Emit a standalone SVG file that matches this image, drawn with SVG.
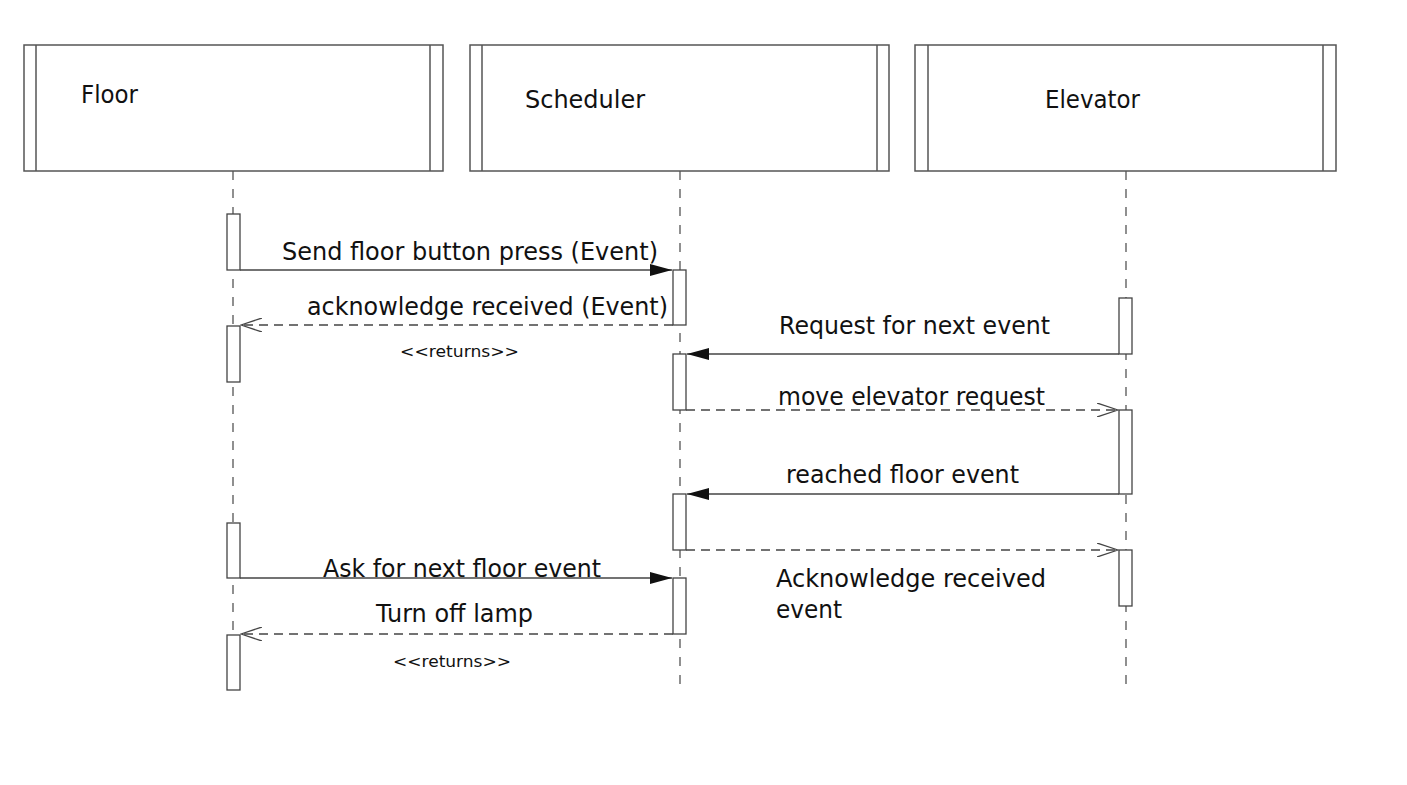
<svg xmlns="http://www.w3.org/2000/svg" width="1407" height="785" viewBox="0 0 1407 785">
<style>
.box{fill:#fff;stroke:#555;stroke-width:1.5}
.life{stroke:#555;stroke-width:1.3;stroke-dasharray:9,9;fill:none}
.act{fill:#fff;stroke:#444;stroke-width:1.3}
.msg{stroke:#444;stroke-width:1.3;fill:none}
.ret{stroke:#444;stroke-width:1.3;stroke-dasharray:9,6;fill:none}
.t{font-family:"DejaVu Sans","Liberation Sans",sans-serif;font-size:24px;fill:#111}
.s{font-family:"DejaVu Sans","Liberation Sans",sans-serif;font-size:16px;fill:#111}
.h{font-family:"DejaVu Sans","Liberation Sans",sans-serif;font-size:24px;fill:#111}
</style>
<defs>
<marker id="fill" markerWidth="22" markerHeight="12" refX="22" refY="6" orient="auto" markerUnits="userSpaceOnUse"><path d="M0,0 L22,6 L0,12 Z" fill="#111"/></marker>
<marker id="open" markerWidth="22" markerHeight="14" refX="21" refY="7" orient="auto" markerUnits="userSpaceOnUse"><path d="M0,0 L21,7 L0,14" fill="none" stroke="#444" stroke-width="1.3"/></marker>
</defs>
<rect width="1407" height="785" fill="#fff"/>
<g id="floor">
<rect class="box" x="24" y="45" width="419" height="126"/>
<line class="box" x1="36" y1="45" x2="36" y2="171"/>
<line class="box" x1="430" y1="45" x2="430" y2="171"/>
<text class="h" x="81" y="103" textLength="57" lengthAdjust="spacingAndGlyphs">Floor</text>
<line class="life" x1="233" y1="171" x2="233" y2="690"/>
</g>
<g id="scheduler">
<rect class="box" x="470" y="45" width="419" height="126"/>
<line class="box" x1="482" y1="45" x2="482" y2="171"/>
<line class="box" x1="877" y1="45" x2="877" y2="171"/>
<text class="h" x="525" y="108" textLength="120" lengthAdjust="spacingAndGlyphs">Scheduler</text>
<line class="life" x1="680" y1="171" x2="680" y2="690"/>
</g>
<g id="elevator">
<rect class="box" x="915" y="45" width="421" height="126"/>
<line class="box" x1="928" y1="45" x2="928" y2="171"/>
<line class="box" x1="1323" y1="45" x2="1323" y2="171"/>
<text class="h" x="1045" y="108" textLength="95" lengthAdjust="spacingAndGlyphs">Elevator</text>
<line class="life" x1="1126" y1="171" x2="1126" y2="690"/>
</g>
<g id="activations">
<rect class="act" x="227" y="214" width="13" height="56"/>
<rect class="act" x="227" y="326" width="13" height="56"/>
<rect class="act" x="227" y="523" width="13" height="55"/>
<rect class="act" x="227" y="635" width="13" height="55"/>
<rect class="act" x="673" y="270" width="13" height="55"/>
<rect class="act" x="673" y="354" width="13" height="56"/>
<rect class="act" x="673" y="494" width="13" height="56"/>
<rect class="act" x="673" y="578" width="13" height="56"/>
<rect class="act" x="1119" y="298" width="13" height="56"/>
<rect class="act" x="1119" y="410" width="13" height="84"/>
<rect class="act" x="1119" y="550" width="13" height="56"/>
</g>
<g id="connectors">
<line class="msg" x1="240" y1="270" x2="672" y2="270" marker-end="url(#fill)"/>
<line class="ret" x1="673" y1="325" x2="241" y2="325" marker-end="url(#open)"/>
<line class="msg" x1="1119" y1="354" x2="687" y2="354" marker-end="url(#fill)"/>
<line class="ret" x1="686" y1="410" x2="1118" y2="410" marker-end="url(#open)"/>
<line class="msg" x1="1119" y1="494" x2="687" y2="494" marker-end="url(#fill)"/>
<line class="ret" x1="686" y1="550" x2="1118" y2="550" marker-end="url(#open)"/>
<line class="msg" x1="240" y1="578" x2="672" y2="578" marker-end="url(#fill)" stroke-width="2"/>
<line class="ret" x1="673" y1="634" x2="241" y2="634" marker-end="url(#open)"/>
</g>
<g id="labels">
<text class="t" x="282" y="260" textLength="376" lengthAdjust="spacingAndGlyphs">Send floor button press (Event)</text>
<text class="t" x="307" y="315" textLength="361" lengthAdjust="spacingAndGlyphs">acknowledge received (Event)</text>
<text class="s" x="400" y="357" textLength="119" lengthAdjust="spacingAndGlyphs">&lt;&lt;returns&gt;&gt;</text>
<text class="t" x="779" y="334" textLength="271" lengthAdjust="spacingAndGlyphs">Request for next event</text>
<text class="t" x="778" y="405" textLength="267" lengthAdjust="spacingAndGlyphs">move elevator request</text>
<text class="t" x="786" y="483" textLength="233" lengthAdjust="spacingAndGlyphs">reached floor event</text>
<text class="t" x="776" y="587" textLength="270" lengthAdjust="spacingAndGlyphs">Acknowledge received</text>
<text class="t" x="776" y="618" textLength="66" lengthAdjust="spacingAndGlyphs">event</text>
<text class="t" x="323" y="577" textLength="278" lengthAdjust="spacingAndGlyphs">Ask for next floor event</text>
<text class="t" x="376" y="622" textLength="157" lengthAdjust="spacingAndGlyphs">Turn off lamp</text>
<text class="s" x="393" y="667" textLength="118" lengthAdjust="spacingAndGlyphs">&lt;&lt;returns&gt;&gt;</text>
</g>
</svg>
